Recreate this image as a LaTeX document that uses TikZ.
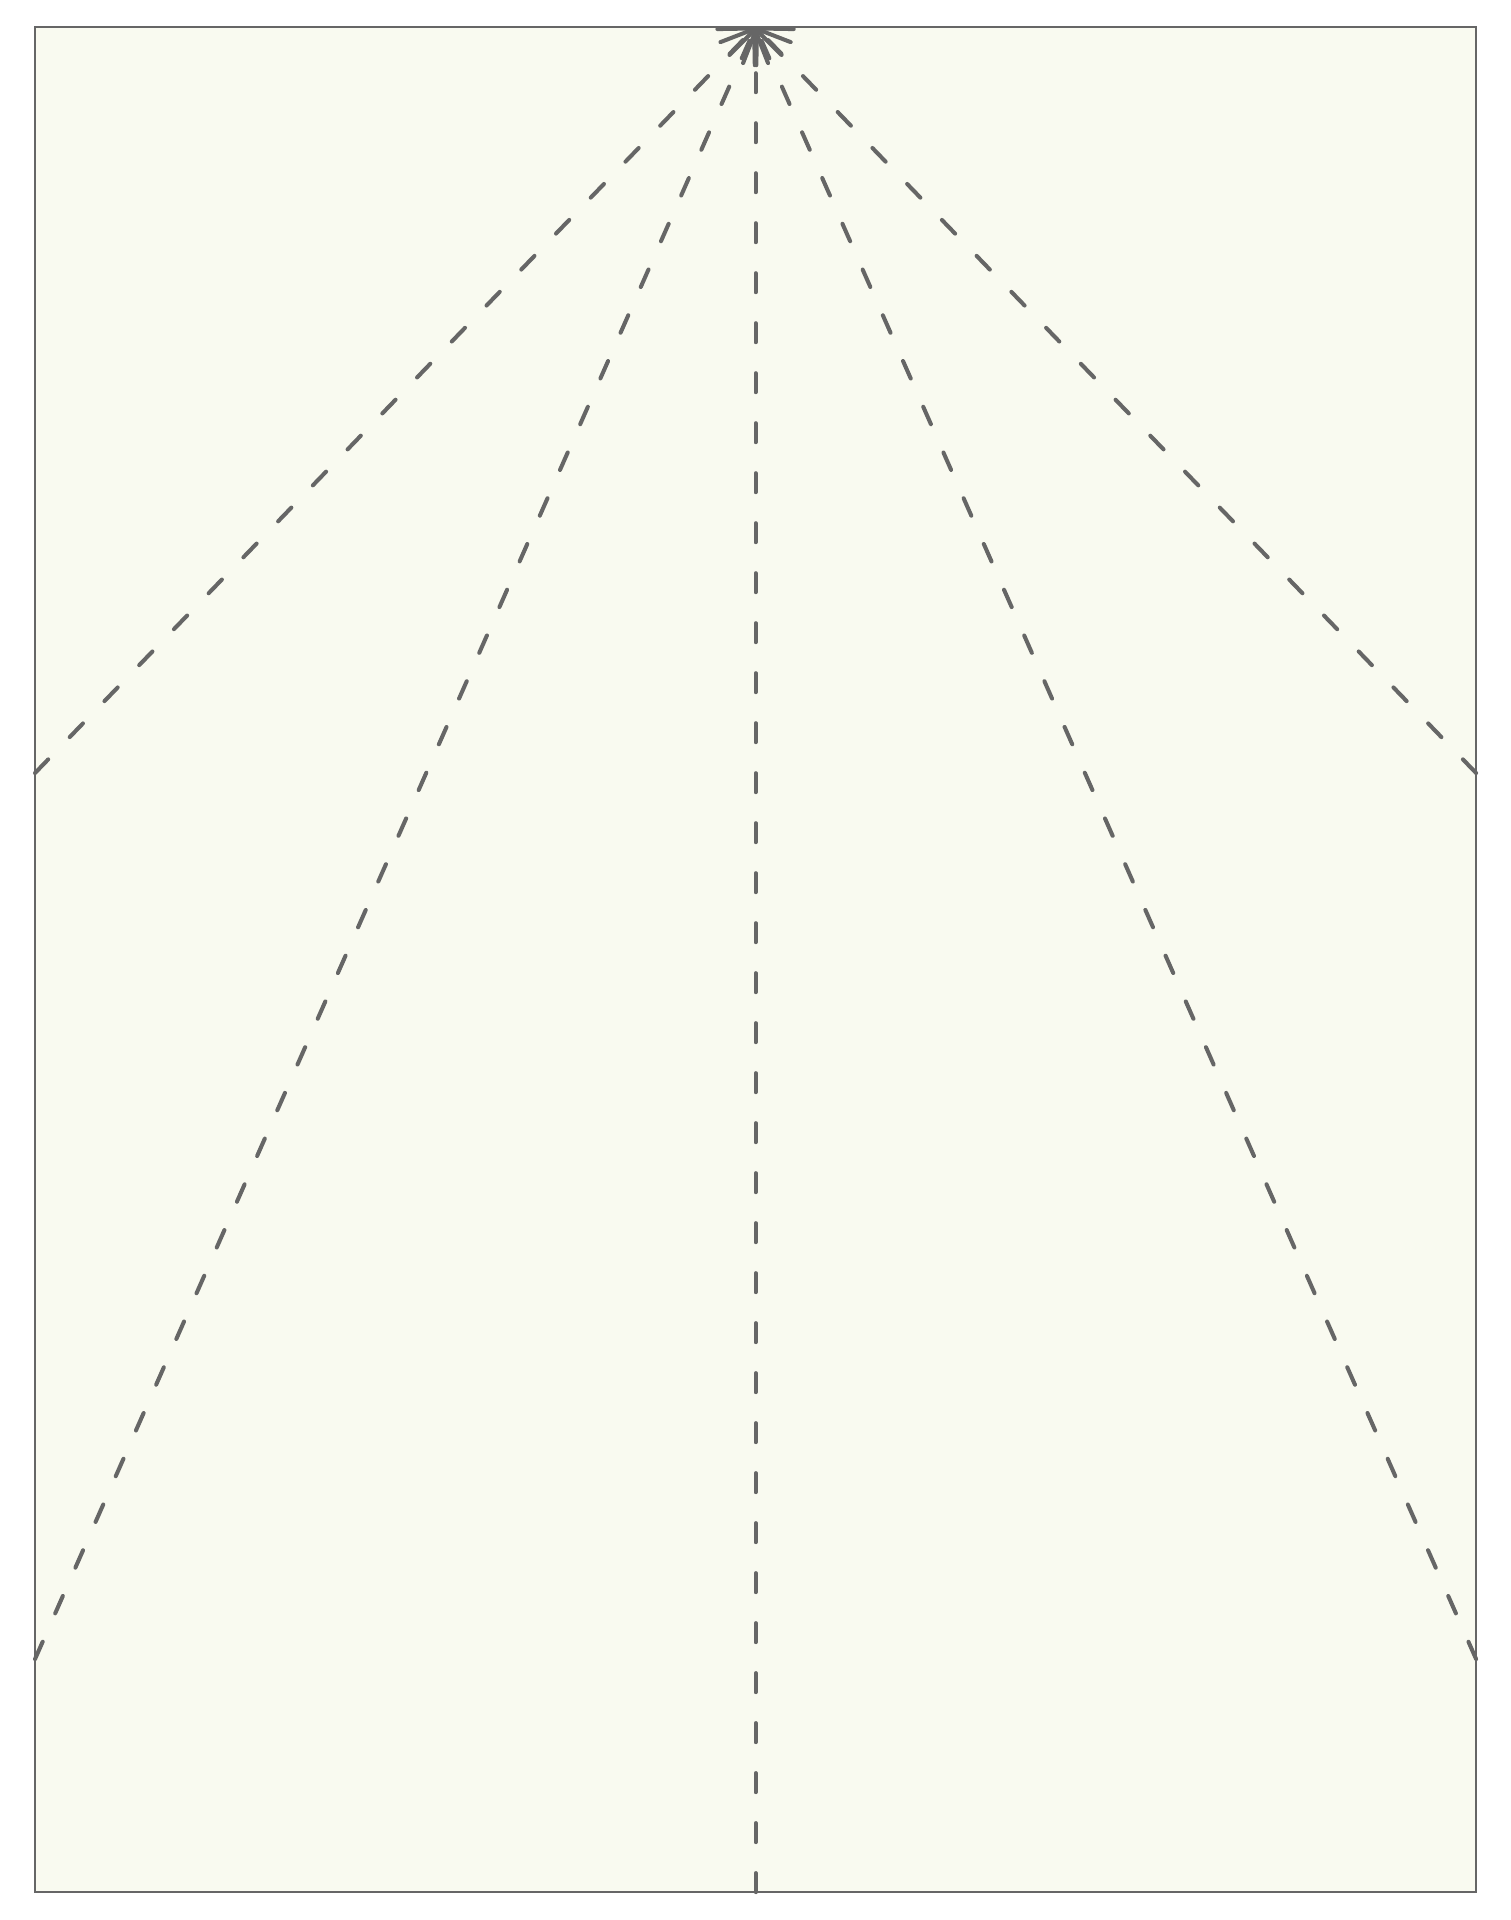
\documentclass[tikz,border=0pt]{standalone}
\usepackage{tikz}
\usetikzlibrary{arrows.meta,positioning}
\definecolor{cream}{RGB}{249,250,240}
\definecolor{edgegray}{RGB}{102,102,102}

\begin{document}
\begin{tikzpicture}[scale=0.1]
			\tikzstyle{every node}+=[inner sep=0pt]
			\tikzstyle{frame}=[draw=edgegray, fill=cream, line width=0.8pt]
			\tikzstyle{ray}=[draw=edgegray, line width=1.15pt, line cap=round, dash pattern=on 1.9mm off 3.1mm, -{Straight Barb[length=2.6mm, width=5.2mm, round]}]
			\useasboundingbox (0,0) rectangle (151,-192);
			\draw [frame] (3.5,-2.7) rectangle (147.6,-189.2);
			\coordinate (apex) at (75.55,-2.7);
			\coordinate (bottom) at (75.55,-189.2);
			\coordinate (leftup) at (3.5,-77.3);
			\coordinate (rightup) at (147.6,-77.3);
			\coordinate (leftlow) at (3.5,-165.9);
			\coordinate (rightlow) at (147.6,-165.9);
			\draw [ray] (bottom) -- (apex);
			\draw [ray] (leftup) -- (apex);
			\draw [ray] (rightup) -- (apex);
			\draw [ray] (leftlow) -- (apex);
			\draw [ray] (rightlow) -- (apex);
			\end{tikzpicture}
\end{document}
